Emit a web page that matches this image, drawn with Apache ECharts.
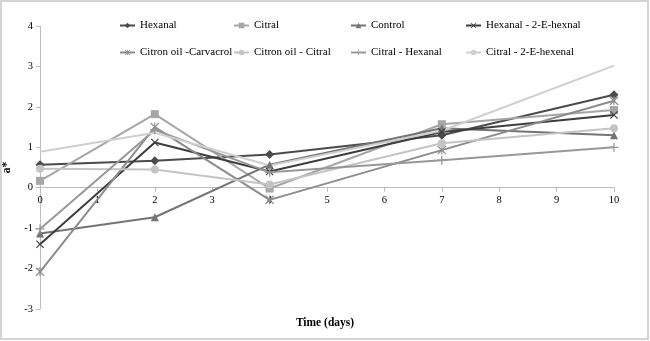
<!DOCTYPE html>
<html>
<head>
<meta charset="utf-8">
<script src="https://cdn.jsdelivr.net/npm/echarts@6/dist/echarts.min.js"></script>
<style>
  html, body { margin: 0; padding: 0; background: #fff; }
  #chart { width: 650px; height: 341px; }
</style>
</head>
<body>
<div id="chart"></div>
<script>
// time points (days)
var days = [0, 2, 4, 7, 10];

// a* values
var hexanal        = [0.57, 0.67, 0.82, 1.30, 2.30];
var citral         = [0.17, 1.82, -0.02, 1.57, 1.92];
var control        = [-1.13, -0.73, 0.57, 1.47, 1.30];
var hexanalHexenal = [-1.40, 1.12, 0.40, 1.38, 1.80];
var oilCarvacrol   = [-2.08, 1.50, -0.30, 0.93, 2.15];
var oilCitral      = [0.47, 0.45, 0.08, 1.10, 1.47];
var citralHexanal  = [-1.02, 1.43, 0.38, 0.68, 1.00];
var citralHexenal  = [0.89, 1.36, 0.55, 1.41, 3.02];

var yTicks = [-3, -2, -1, 0, 1, 2, 3, 4];

var xShape = 'path://M0,1L1,0L5,4L9,0L10,1L6,5L10,9L9,10L5,6L1,10L0,9L4,5Z';
var plusShape = 'path://M4.3,0H5.7V4.3H10V5.7H5.7V10H4.3V5.7H0V4.3H4.3Z';
var starShape = 'path://M0,1L1,0L4.4,3.4V0H5.6V3.4L9,0L10,1L6,5L10,9L9,10L5.6,6.6V10H4.4V6.6L1,10L0,9L4,5Z';

var font = 'Liberation Serif';

function pairs(vals) {
	var out = [];
	for (var i = 0; i < days.length; i++) {
		out.push([days[i], vals[i]]);
	}
	return out;
}

function line(name, vals, color, symbol, size) {
	return {
		name : name,
		type : 'line',
		data : pairs(vals),
		symbol : symbol,
		symbolSize : size,
		showSymbol : symbol !== 'none',
		lineStyle : { color : color, width : 2 },
		itemStyle : { color : color },
		emphasis : { disabled : true },
		z : 2
	};
}

var chart = echarts.init(document.getElementById('chart'));

function legendCol(left, names) {
	return {
		orient : 'vertical',
		left : left,
		top : 20,
		padding : 0,
		itemGap : 16,
		itemWidth : 15,
		itemHeight : 7,
		textStyle : { fontFamily : font, fontSize : 11, color : '#000' },
		data : names
	};
}

var option = {
	animation : false,
	backgroundColor : '#fff',
	title : {
		text : 'Time (days)',
		left : 'center',
		top : 312,
		textStyle : { fontFamily : font, fontSize : 11.5, fontWeight : 'bold', color : '#000' }
	},
	legend : [
		legendCol(119, ['Hexanal', 'Citron oil -Carvacrol']),
		legendCol(233, ['Citral', 'Citron oil - Citral']),
		legendCol(350, ['Control', 'Citral - Hexanal']),
		legendCol(465, ['Hexanal - 2-E-hexnal', 'Citral - 2-E-hexenal'])
	],
	graphic : [{
		type : 'rect',
		shape : { x : 1, y : 1, width : 647, height : 338 },
		style : { fill : 'none', stroke : '#d4d4d4', lineWidth : 2 },
		silent : true
	}],
	grid : {
		left : 40,
		right : 36,
		top : 26,
		bottom : 32,
		outerBoundsMode : 'none',
		containLabel : false
	},
	xAxis : {
		type : 'value',
		position : 'bottom',
		min : 0,
		max : 10,
		interval : 1,
		axisLine : { onZero : false, lineStyle : { color : '#bdbdbd', width : 1 } },
		axisTick : { show : true, length : 4, lineStyle : { color : '#bdbdbd' } },
		axisLabel : { fontFamily : font, fontSize : 10.5, color : '#000', margin : 7 },
		splitLine : { show : false }
	},
	yAxis : {
		type : 'value',
		min : yTicks[0],
		max : yTicks[yTicks.length - 1],
		interval : 1,
		name : 'a*',
		nameLocation : 'middle',
		nameGap : 13,
		nameTextStyle : { fontFamily : font, fontSize : 11.5, fontWeight : 'bold', color : '#000' },
		axisLine : { show : true, onZero : false, lineStyle : { color : '#bdbdbd', width : 1 } },
		axisTick : { show : true, length : 4, lineStyle : { color : '#bdbdbd' } },
		axisLabel : { fontFamily : font, fontSize : 10.5, color : '#000', margin : 7 },
		splitLine : { show : false }
	},
	series : [
		line('Hexanal', hexanal, '#4b4b4b', 'diamond', 9),
		line('Citral', citral, '#a6a6a6', 'rect', 8),
		line('Control', control, '#747474', 'triangle', 8),
		line('Hexanal - 2-E-hexnal', hexanalHexenal, '#3d3d3d', xShape, 8),
		line('Citron oil -Carvacrol', oilCarvacrol, '#8c8c8c', starShape, 9),
		line('Citron oil - Citral', oilCitral, '#c4c4c4', 'circle', 8),
		line('Citral - Hexanal', citralHexanal, '#989898', plusShape, 9),
		line('Citral - 2-E-hexenal', citralHexenal, '#cfcfcf', 'none', 1)
	]
};
chart.setOption(option);

// move the x axis up so that it crosses the y axis at zero
var yZero = chart.convertToPixel({ yAxisIndex : 0 }, 0);
var yBottom = chart.convertToPixel({ yAxisIndex : 0 }, yTicks[0]);
chart.setOption({ xAxis : { offset : -(yBottom - yZero) } });
</script>
</body>
</html>
